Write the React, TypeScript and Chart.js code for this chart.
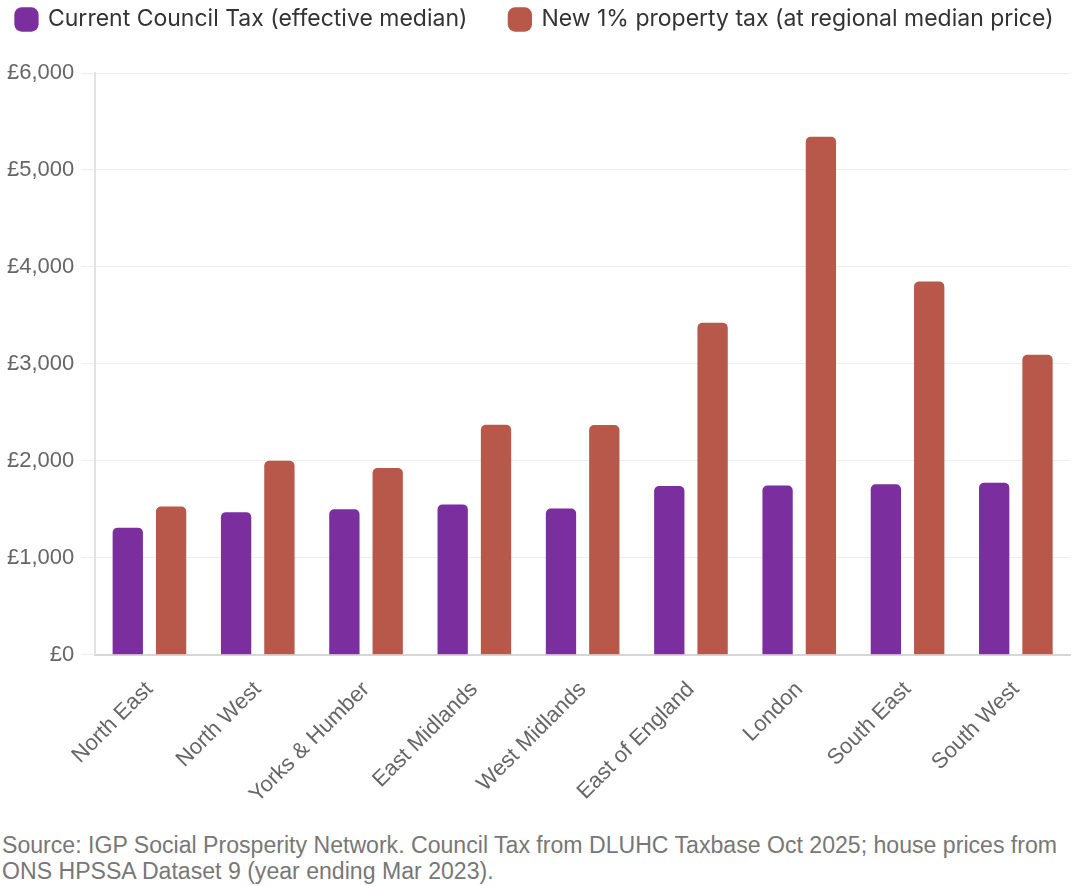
import React, { useEffect, useRef } from "react";
import { Chart, registerables } from "chart.js";

Chart.register(...registerables);

const regions = [
  "North East",
  "North West",
  "Yorks & Humber",
  "East Midlands",
  "West Midlands",
  "East of England",
  "London",
  "South East",
  "South West",
];
const councilTax = [1310, 1470, 1500, 1550, 1507, 1740, 1744, 1758, 1774];
const propertyTax = [1528, 2000, 1926, 2372, 2368, 3423, 5342, 3849, 3094];
const seriesLabels = [
  "Current Council Tax (effective median)",
  "New 1% property tax (at regional median price)",
];
const footnote =
  "Source: IGP Social Prosperity Network. Council Tax from DLUHC Taxbase Oct 2025; house prices from ONS HPSSA Dataset 9 (year ending Mar 2023).";

const legendSpacer = {
  id: "legendSpacer",
  beforeInit(chart: any) {
    const legend = chart.legend;
    if (!legend) return;
    const orig = legend.fit;
    legend.fit = function () {
      orig.call(this);
      this.height += 32;
    };
  },
};

export default function App() {
  const ref = useRef<HTMLCanvasElement | null>(null);
  useEffect(() => {
    document.body.style.margin = "0";
    const ctx = ref.current!;
    const chart = new Chart(ctx, {
      type: "bar",
      data: {
        labels: regions,
        datasets: [
          {
            label: seriesLabels[0],
            data: councilTax,
            backgroundColor: "#7B2F9E",
            borderRadius: { topLeft: 5, topRight: 5 },
            borderSkipped: "bottom",
          },
          {
            label: seriesLabels[1],
            data: propertyTax,
            backgroundColor: "#B8584B",
            borderRadius: { topLeft: 5, topRight: 5 },
            borderSkipped: "bottom",
          },
        ],
      },
      plugins: [legendSpacer],
      options: {
        animation: false,
        responsive: false,
        layout: { padding: { left: 0, right: 4, top: 0, bottom: 4 } },
        datasets: { bar: { categoryPercentage: 0.8, barPercentage: 0.7 } },
        plugins: {
          legend: {
            position: "top",
            labels: {
              usePointStyle: true,
              pointStyle: "rectRounded",
              boxWidth: 20,
              boxHeight: 20,
              padding: 8,
              color: "#333",
              font: { family: "Inter, 'Liberation Sans', sans-serif", size: 23 },
              generateLabels: (c: any) => {
                const items = Chart.defaults.plugins.legend.labels.generateLabels(c);
                items.forEach((it: any, i: number) => {
                  if (i < items.length - 1) it.text = it.text + "\u2003\u2002";
                });
                return items;
              },
            },
          },
          tooltip: { enabled: false },
        },
        scales: {
          x: {
            grid: { display: false },
            border: { display: true, color: "#d6d6d6", width: 2 },
            ticks: {
              color: "#666",
              padding: 14,
              maxRotation: 45,
              minRotation: 45,
              font: { family: "'Liberation Sans', Arial, sans-serif", size: 22 },
            },
          },
          y: {
            min: 0,
            max: 6000,
            grid: { color: "#eeeeee", tickLength: 14, lineWidth: 1 },
            border: { display: true, color: "#e2e2e2", width: 2 },
            ticks: {
              stepSize: 1000,
              color: "#666",
              padding: 7,
              font: { family: "'Liberation Sans', Arial, sans-serif", size: 22 },
              callback: (v: any) => "£" + Number(v).toLocaleString("en-GB"),
            },
          },
        },
      },
    });
    return () => chart.destroy();
  }, []);
  return (
    <div style={{ width: 1074, background: "#fff" }}>
      <canvas ref={ref} width={1074} height={826} style={{ display: "block" }} />
      <div
        style={{
          fontFamily: "'Liberation Sans', Arial, sans-serif",
          fontSize: 23.1,
          lineHeight: "26px",
          color: "#777",
          padding: "6px 0 0 2px",
        }}
      >
        {footnote}
      </div>
    </div>
  );
}
